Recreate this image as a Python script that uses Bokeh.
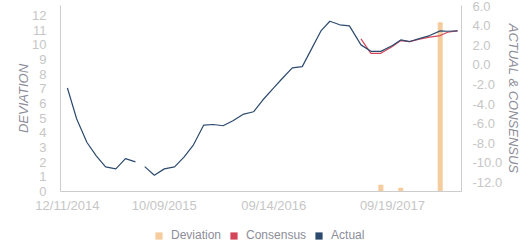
import math
import pandas as pd
from bokeh.plotting import figure
from bokeh.layouts import column
from bokeh.models import (Range1d, LinearAxis, FixedTicker, NumeralTickFormatter,
                          DatetimeTickFormatter, Legend, LegendItem, ColumnDataSource)
from bokeh.embed import file_html
from bokeh.resources import INLINE

nan = float("nan")

dates = ["2014-12-11", "2015-01-09", "2015-02-10", "2015-03-11", "2015-04-09", "2015-05-11",
         "2015-06-10", "2015-07-11", "2015-07-26", "2015-08-09", "2015-09-08", "2015-10-09",
         "2015-11-10", "2015-12-10", "2016-01-08", "2016-02-09", "2016-03-10", "2016-04-09",
         "2016-05-10", "2016-06-10", "2016-07-13", "2016-08-11", "2016-09-14", "2016-10-12",
         "2016-11-11", "2016-12-12", "2017-01-10", "2017-02-09", "2017-03-08", "2017-04-08",
         "2017-05-08", "2017-06-13", "2017-07-14", "2017-08-14", "2017-09-19", "2017-10-15",
         "2017-11-12", "2017-12-12", "2018-01-13", "2018-02-15", "2018-03-10", "2018-04-10"]

actual = [-2.35, -5.52, -7.92, -9.28, -10.41, -10.61, -9.56, -9.90, nan,
          -10.38, -11.26, -10.61, -10.41, -9.38, -8.15, -6.14, -6.08, -6.21, -5.70,
          -5.05, -4.78, -3.58, -2.35, -1.33, -0.30, -0.17, 1.64, 3.51, 4.46, 4.10,
          3.99, 2.05, 1.39, 1.39, 1.98, 2.56, 2.39, 2.69, 3.00, 3.48, 3.44, 3.48]

consensus = [nan] * 31 + [2.66, 1.19, 1.19, 1.88, 2.49, 2.39, 2.64, 2.85, 3.00, 3.34, 3.48]

deviation = [nan] * 42
deviation[33] = 0.46
deviation[35] = 0.25
deviation[39] = 11.54

series_names = ["Deviation", "Consensus", "Actual"]
x_tick_dates = ["2014-12-11", "2015-10-09", "2016-09-14", "2017-09-19"]
left_ticks = list(range(0, 13))
right_ticks = list(range(-12, 7, 2))

FONT = "Liberation Sans"
TICK_COLOR = "#c6c6c6"
TITLE_COLOR = "#8d8d99"
AXIS_COLOR = "#cccccc"
C_DEV = "#f5cc9e"
C_CON = "#d5455a"
C_ACT = "#2c4a6e"

x = pd.to_datetime(dates)
src = ColumnDataSource(dict(x=x, actual=actual, consensus=consensus, deviation=deviation))

x_start = pd.Timestamp("2014-11-19 12:00")
x_end = pd.Timestamp("2018-04-22 08:00")

p = figure(width=531, height=215, output_backend="svg", toolbar_location=None,
           x_axis_type="datetime", x_range=Range1d(x_start, x_end),
           y_range=Range1d(0, 12.68),
           min_border_left=60, min_border_right=70, min_border_top=5, min_border_bottom=24)
p.extra_y_ranges = {"right": Range1d(-12.92, 6.07)}
p.outline_line_color = None
p.grid.visible = False
p.background_fill_color = "white"
p.border_fill_color = "white"

day_ms = 86400000
p.vbar(x="x", top="deviation", bottom=0, width=15.6 * day_ms, source=src,
       fill_color=C_DEV, line_color=None)
p.line(x="x", y="consensus", source=src, color=C_CON, line_width=1.2, y_range_name="right")
p.line(x="x", y="actual", source=src, color=C_ACT, line_width=1.2, y_range_name="right")

def style_axis(ax):
    ax.axis_line_color = AXIS_COLOR
    ax.major_tick_line_color = None
    ax.minor_tick_line_color = None
    ax.major_label_text_color = TICK_COLOR
    ax.major_label_text_font = FONT
    ax.major_label_text_font_size = "13px"
    ax.axis_label_text_color = TITLE_COLOR
    ax.axis_label_text_font = FONT
    ax.axis_label_text_font_size = "13px"
    ax.axis_label_text_font_style = "italic"

xa = p.xaxis[0]
style_axis(xa)
xa.ticker = FixedTicker(ticks=[pd.Timestamp(d).value / 1e6 for d in x_tick_dates])
fmt = "%m/%d/%Y"
xa.formatter = DatetimeTickFormatter(microseconds=fmt, milliseconds=fmt, seconds=fmt, minsec=fmt,
                                     minutes=fmt, hourmin=fmt, hours=fmt, days=fmt,
                                     months=fmt, years=fmt)
xa.major_label_standoff = 0

ya = p.yaxis[0]
style_axis(ya)
ya.ticker = FixedTicker(ticks=left_ticks)
ya.axis_label = "DEVIATION"
ya.major_label_standoff = 8
ya.axis_label_standoff = -2

ra = LinearAxis(y_range_name="right", axis_label="ACTUAL & CONSENSUS")
style_axis(ra)
ra.ticker = FixedTicker(ticks=right_ticks)
ra.formatter = NumeralTickFormatter(format="0.0")
ra.major_label_standoff = 5
ra.axis_label_standoff = 1
p.add_layout(ra, "right")

# legend strip below the chart
lg = figure(width=531, height=35, output_backend="svg", toolbar_location=None,
            x_range=Range1d(0, 1), y_range=Range1d(0, 1),
            x_axis_location=None, y_axis_location=None,
            min_border_left=0, min_border_right=0, min_border_top=0, min_border_bottom=0)
lg.grid.visible = False
lg.outline_line_color = None
proxy_src = ColumnDataSource(dict(x=[0.5], z=[0.0]))
proxies = []
for name, col in zip(series_names, [C_DEV, C_CON, C_ACT]):
    proxies.append(lg.vbar(x="x", top="z", bottom="z", width=0.01, source=proxy_src,
                           fill_color=col, line_color=None))

legend = Legend(items=[LegendItem(label=n, renderers=[r]) for n, r in zip(series_names, proxies)],
                orientation="horizontal", location=(94, 8),
                glyph_width=9, glyph_height=9, label_standoff=8, spacing=8,
                label_text_font=FONT, label_text_font_size="12px",
                label_text_color=TITLE_COLOR, label_height=14,
                border_line_color=None, background_fill_alpha=0,
                margin=0, padding=0)
lg.add_layout(legend, "center")

layout = column(p, lg, spacing=0)
open("out.html", "w").write(file_html(layout, INLINE))
